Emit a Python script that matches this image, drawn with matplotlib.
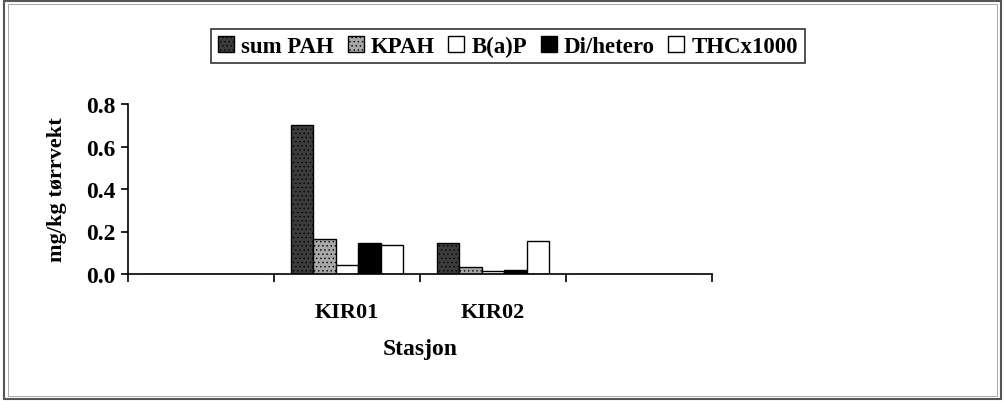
import matplotlib
matplotlib.use('Agg')
import matplotlib.pyplot as plt
from matplotlib.patches import Rectangle
import numpy as np

# data (mg/kg dry weight)
stations = ['', 'KIR01', 'KIR02', '']
series = ['sum PAH', 'KPAH', 'B(a)P', 'Di/hetero', 'THCx1000']
sum_pah = [0, 0.70, 0.148, 0]
kpah = [0, 0.165, 0.032, 0]
bap = [0, 0.043, 0.013, 0]
di_hetero = [0, 0.148, 0.02, 0]
thc = [0, 0.135, 0.155, 0]
values = [sum_pah, kpah, bap, di_hetero, thc]

colors = ['#3c3c3c', '#a8a8a8', 'white', 'black', 'white']
hatches = ['....', '....', None, None, None]

plt.rcParams['font.family'] = ['Liberation Serif', 'DejaVu Serif']
plt.rcParams['font.weight'] = 'bold'
plt.rcParams['hatch.linewidth'] = 0.5

fig = plt.figure(figsize=(10.05, 4.02), dpi=100)
ax = fig.add_axes([128/1005, 1-275/402, (712-128)/1005, (275-105)/402])

x = np.arange(len(stations))
w = 0.154
for i, name in enumerate(series):
    ax.bar(x + (i - 2) * w, values[i], w, color=colors[i], edgecolor='black',
           linewidth=1.0, hatch=hatches[i], label=name)

ax.set_xlim(-0.5, 3.5)
ax.set_ylim(0, 0.8)
ax.set_yticks([0, 0.2, 0.4, 0.6, 0.8])
ax.set_yticklabels(['0.0', '0.2', '0.4', '0.6', '0.8'], fontsize=17, fontweight='bold')
ax.set_xticks(np.arange(-0.5, 4, 1))
ax.set_xticklabels([])
ax.set_xticks(x, minor=True)
ax.set_xticklabels(stations, minor=True, fontsize=16, fontweight='bold')
ax.tick_params(axis='x', which='minor', length=0, pad=20)
ax.tick_params(axis='x', which='major', length=6, direction='out', width=1.2)
ax.tick_params(axis='y', length=5, direction='out', width=1.2, pad=4)
ax.spines['top'].set_visible(False)
ax.spines['right'].set_visible(False)
ax.spines['left'].set_linewidth(1.2)
ax.spines['bottom'].set_linewidth(1.2)

ax.set_ylabel('mg/kg tørrvekt', fontsize=16, fontweight='bold', labelpad=14)
ax.set_xlabel('Stasjon', fontsize=17, fontweight='bold', labelpad=12)

leg = fig.legend(loc='center', bbox_to_anchor=(508/1005, 1-47/402), ncol=5,
                 frameon=True, fancybox=False, edgecolor='black', fontsize=16.5,
                 handlelength=0.7, handleheight=0.7, handletextpad=0.3,
                 columnspacing=0.6, borderpad=0.3)
leg.get_frame().set_linewidth(1.2)

# outer border of the chart area
fig.add_artist(Rectangle((0.004, 0.006), 0.992, 0.988, transform=fig.transFigure,
                         fill=False, edgecolor='#555555', linewidth=1.5))
fig.add_artist(Rectangle((0.008, 0.012), 0.984, 0.976, transform=fig.transFigure,
                         fill=False, edgecolor='#999999', linewidth=0.6))

fig.savefig('out.png', dpi=100)
